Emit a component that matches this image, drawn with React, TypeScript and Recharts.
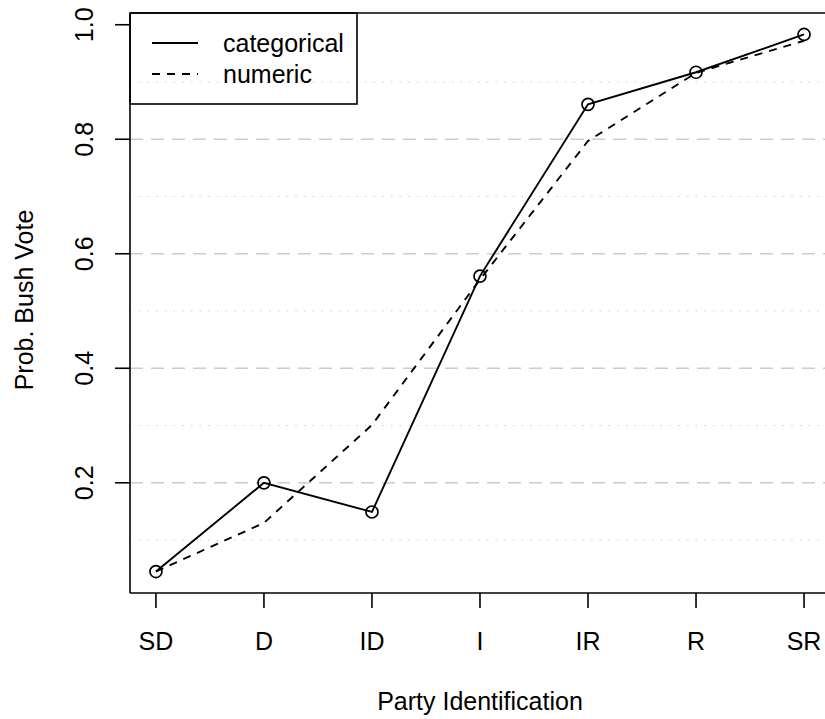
import React from "react";
import {
    LineChart,
    Line,
    XAxis,
    YAxis,
    ReferenceLine
} from "recharts";

// party id categories (7-point scale)
const parties = ["SD", "D", "ID", "I", "IR", "R", "SR"];
const categoricalProb = [0.045, 0.2, 0.149, 0.561, 0.861, 0.917, 0.983];
const numericProb = [0.045, 0.13, 0.301, 0.555, 0.797, 0.916, 0.972];

const yTicks = [0.2, 0.4, 0.6, 0.8, 1.0];
const majorGrid = [0.2, 0.4, 0.6, 0.8];
const minorGrid = [0.1, 0.3, 0.5, 0.7, 0.9];

const data = parties.map((p, i) => ({
    pos: i + 1,
    party: p,
    categorical: categoricalProb[i],
    numeric: numericProb[i]
}));

const FONT = "'Liberation Sans', Arial, sans-serif";

const XTick = (props: any) => {
    const { x, payload } = props;
    return (
        <text x={x} y={650} textAnchor="middle" fontFamily={FONT} fontSize={25} fill="#000">
            {parties[payload.value - 1]}
        </text>
    );
};

const YTick = (props: any) => {
    const { y, payload } = props;
    const bx = 93;
    return (
        <text
            x={bx}
            y={y}
            textAnchor="middle"
            fontFamily={FONT}
            fontSize={25}
            fill="#000"
            transform={`rotate(-90, ${bx}, ${y})`}
        >
            {payload.value.toFixed(1)}
        </text>
    );
};

export default function App() {
    return (
        <div style={{ position: "absolute", left: 0, top: 0, width: 825, height: 719, background: "#fff" }}>
            <LineChart
                width={825}
                height={719}
                data={data}
                margin={{ top: 13, right: 0, bottom: 0, left: 0 }}
            >
                <XAxis
                    dataKey="pos"
                    type="number"
                    domain={[0.76, 7.194]}
                    ticks={[1, 2, 3, 4, 5, 6, 7]}
                    allowDataOverflow
                    height={126}
                    tickSize={15}
                    axisLine={{ stroke: "#000", strokeWidth: 1.6 }}
                    tickLine={{ stroke: "#000", strokeWidth: 1.6 }}
                    tick={<XTick />}
                />
                <YAxis
                    type="number"
                    domain={[0.0075, 1.0205]}
                    ticks={yTicks}
                    allowDataOverflow
                    width={130}
                    tickSize={15}
                    axisLine={{ stroke: "#000", strokeWidth: 1.6 }}
                    tickLine={{ stroke: "#000", strokeWidth: 1.6 }}
                    tick={<YTick />}
                />
                {minorGrid.map((v) => (
                    <ReferenceLine key={`mn-${v}`} y={v} stroke="#cfcfcf" strokeWidth={1} strokeDasharray="1.5 7.2" />
                ))}
                {majorGrid.map((v) => (
                    <ReferenceLine key={`mj-${v}`} y={v} stroke="#cccccc" strokeWidth={1.5} strokeDasharray="13 8" />
                ))}
                {/* top edge of the plot box */}
                <ReferenceLine y={1.0205} stroke="#000" strokeWidth={1.6} />
                <Line
                    type="linear"
                    dataKey="numeric"
                    stroke="#000"
                    strokeWidth={1.9}
                    strokeDasharray="8 7"
                    dot={false}
                    activeDot={false}
                    isAnimationActive={false}
                />
                <Line
                    type="linear"
                    dataKey="categorical"
                    stroke="#000"
                    strokeWidth={1.9}
                    dot={{ r: 6, fill: "none", stroke: "#000", strokeWidth: 1.7 }}
                    activeDot={false}
                    isAnimationActive={false}
                />
            </LineChart>

            {/* titles + legend box */}
            <svg
                width={825}
                height={719}
                style={{ position: "absolute", left: 0, top: 0, pointerEvents: "none" }}
            >
                <text x={480} y={710} textAnchor="middle" fontFamily={FONT} fontSize={25}>
                    Party Identification
                </text>
                <text
                    x={33}
                    y={300}
                    textAnchor="middle"
                    fontFamily={FONT}
                    fontSize={25}
                    transform="rotate(-90, 33, 300)"
                >
                    Prob. Bush Vote
                </text>
                <rect x={130} y={13} width={227} height={91} fill="none" stroke="#000" strokeWidth={1.6} />
                <line x1={152} y1={43} x2={198} y2={43} stroke="#000" strokeWidth={1.9} />
                <line x1={152} y1={74} x2={198} y2={74} stroke="#000" strokeWidth={1.9} strokeDasharray="8 7" />
                <text x={223} y={52} fontFamily={FONT} fontSize={25}>categorical</text>
                <text x={223} y={83} fontFamily={FONT} fontSize={25}>numeric</text>
            </svg>
        </div>
    );
}
